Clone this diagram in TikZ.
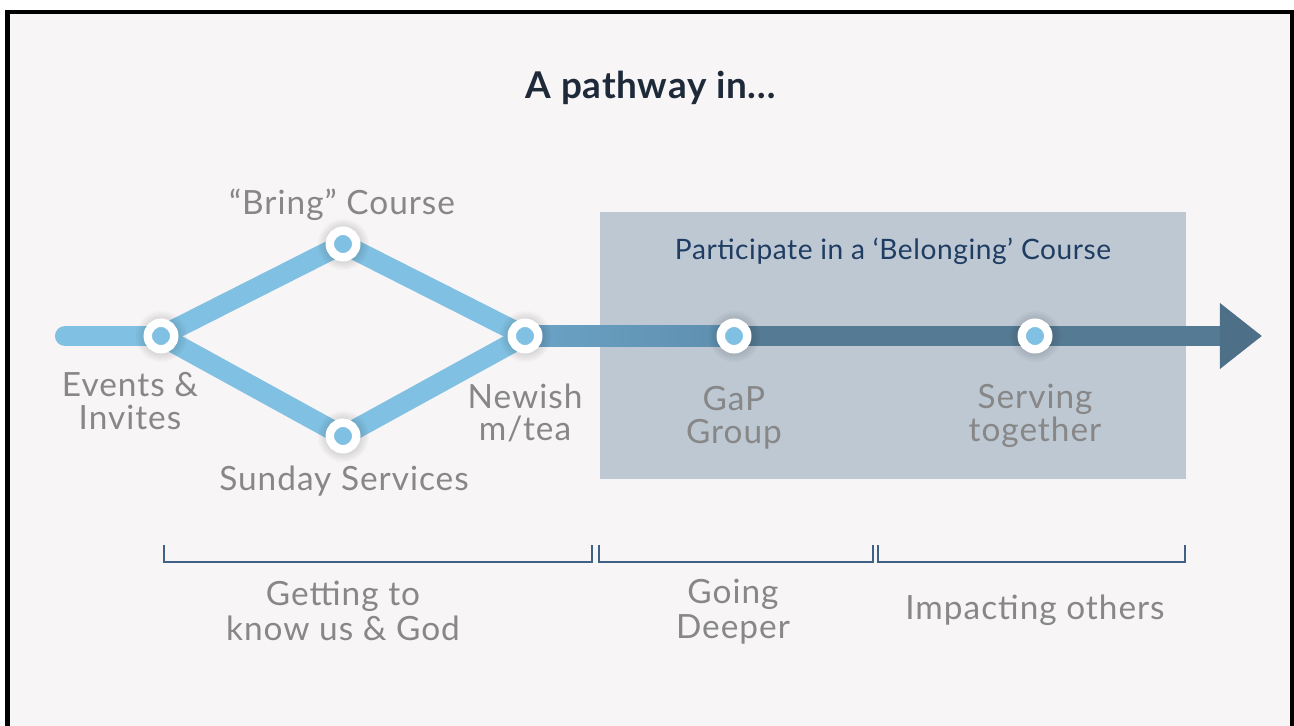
\documentclass[tikz,border=0pt]{standalone}
\usepackage{fontspec}
\setmainfont{Lato}
\newfontfamily\labelfont[LetterSpace=3]{Lato}
\newfontfamily\titlefont[LetterSpace=2]{Lato}
\usetikzlibrary{arrows.meta, fadings}
\tikzfading[name=halo, inner color=transparent!65, outer color=transparent!100]
\definecolor{paper}{HTML}{F7F5F6}
\definecolor{lightline}{HTML}{80C0E2}
\definecolor{midline}{HTML}{6BA3C6}
\definecolor{deepline}{HTML}{5E8EAE}
\definecolor{darkline}{HTML}{557A93}
\definecolor{headcol}{HTML}{4E6F88}
\definecolor{boxfill}{HTML}{BDC8D3}
\definecolor{labelgray}{HTML}{878787}
\definecolor{navy}{HTML}{1F3C62}
\definecolor{titleink}{HTML}{1E2A3A}
\definecolor{bracketblue}{HTML}{3E6185}

\begin{document}
\begin{tikzpicture}[x=0.02cm, y=-0.02cm,
        stopdot/.style={circle, fill=lightline, draw=white, line width=4.8pt,
                minimum size=15.1pt, inner sep=0pt},
        stoplabel/.style={text=labelgray, align=center,
                font=\labelfont\fontsize{19pt}{18.5pt}\selectfont},
        phase/.style={draw=bracketblue, line width=0.8pt},
        phaselabel/.style={text=labelgray, align=center,
                font=\labelfont\fontsize{19pt}{20pt}\selectfont}]
        \pgfmathsetmacro{\pathW}{11.4}
        \useasboundingbox (0,0) rectangle (1294,726);
        \clip (0,0) rectangle (1294,726);
        \fill[white] (0,0) rectangle (1294,726);
        \filldraw[fill=paper, draw=black, line width=2.7pt] (7.5,12) rectangle (1292,760);

        \fill[boxfill] (600,212) rectangle (1186,479);
        \node[text=navy, font=\titlefont\fontsize{16pt}{18pt}\selectfont] (belong) at (893,251)
        {Participate in a ‘Belonging’ Course};

        \coordinate (start) at (65,336);
        \coordinate (ev) at (161,336);
        \coordinate (br) at (343,244);
        \coordinate (su) at (343,436);
        \coordinate (nw) at (525,336);
        \coordinate (gap) at (734,336);
        \coordinate (sv) at (1035,336);
        \coordinate (tip) at (1262,336);

        \draw[lightline, line width=\pathW pt] (ev) -- (br) -- (nw);
        \draw[lightline, line width=\pathW pt] (ev) -- (su) -- (nw);
        \draw[lightline, line width=\pathW pt, line cap=round] (start) -- (ev);
        \shade[left color=midline, right color=deepline]
        ([yshift=-5.7pt]nw) rectangle ([yshift=5.7pt]gap);
        \draw[darkline, line width=\pathW pt,
                -{Triangle[length=24pt, width=36pt, color=headcol]}] (gap) -- (tip);

        \foreach \p in {ev, br, su, nw, gap, sv} {
        \fill[black, path fading=halo] (\p) circle (15pt);
        \node[stopdot] (\p-dot) at (\p) {};
        }

        \node[stoplabel] (evLbl) at (130,401) {Events \&\\Invites};
        \node[stoplabel] (brLbl) at (342,205) {“Bring” Course};
        \node[stoplabel] (suLbl) at (344,481) {Sunday Services};
        \node[stoplabel] (nwLbl) at (525,413) {Newish\\m/tea};
        \node[stoplabel] (gapLbl) at (734,418) {GaP\\Group};
        \node[stoplabel] (svLbl) at (1035,416) {Serving\\together};

        \draw[phase] (164,545) -- (164,562) -- (592,562) -- (592,545);
        \draw[phase] (599,545) -- (599,562) -- (873,562) -- (873,545);
        \draw[phase] (878,545) -- (878,562) -- (1185,562) -- (1185,545);
        \node[phaselabel] (knowLbl) at (343,611) {Getting to\\know us \& God};
        \node[phaselabel] (deepLbl) at (733,612) {Going\\Deeper};
        \node[phaselabel] (impactLbl) at (1035,610) {Impacting others};

        \node[text=titleink, font=\titlefont\bfseries\fontsize{21pt}{24pt}\selectfont] (title) at (651,88)
        {A pathway in…};
\end{tikzpicture}
\end{document}
